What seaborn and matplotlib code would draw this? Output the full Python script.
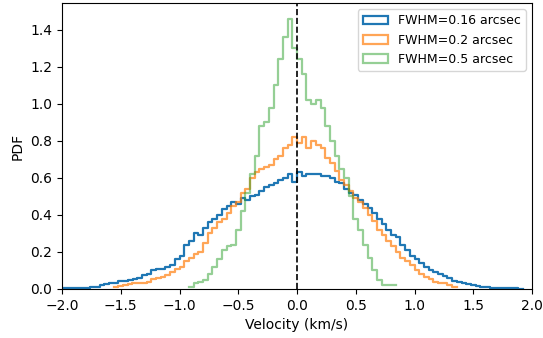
import numpy as np
import pandas as pd
import matplotlib
matplotlib.use("Agg")
import matplotlib.pyplot as plt
import seaborn as sns
from matplotlib.patches import Patch

# Velocity PDFs, one value per 0.04 km/s bin
BIN_WIDTH = 0.04

labels = ['FWHM=0.16 arcsec', 'FWHM=0.2 arcsec', 'FWHM=0.5 arcsec']

# FWHM = 0.16 arcsec, bins start at -2.00
start_016 = -2.00
pdf_016 = [
    0.005, 0.005, 0.005, 0.005, 0.008, 0.008, 0.010, 0.012, 0.020, 0.025,
    0.030, 0.035, 0.045, 0.045, 0.050, 0.055, 0.060, 0.075, 0.080, 0.100,
    0.110, 0.110, 0.120, 0.130, 0.160, 0.180, 0.240, 0.260, 0.300, 0.290,
    0.330, 0.360, 0.380, 0.400, 0.430, 0.450, 0.470, 0.460, 0.490, 0.480,
    0.500, 0.510, 0.530, 0.550, 0.560, 0.570, 0.590, 0.600, 0.620, 0.580,
    0.630, 0.610, 0.620, 0.620, 0.620, 0.610, 0.610, 0.600, 0.580, 0.570,
    0.540, 0.520, 0.510, 0.480, 0.460, 0.440, 0.410, 0.380, 0.350, 0.320,
    0.290, 0.280, 0.240, 0.210, 0.180, 0.160, 0.140, 0.120, 0.100, 0.090,
    0.080, 0.070, 0.060, 0.045, 0.040, 0.030, 0.025, 0.020, 0.015, 0.012,
    0.010, 0.008, 0.006, 0.005, 0.004, 0.003, 0.003, 0.002,
]

# FWHM = 0.2 arcsec, bins start at -1.56
start_02 = -1.56
pdf_02 = [
    0.010, 0.015, 0.020, 0.025, 0.030, 0.030, 0.035, 0.040, 0.055, 0.060,
    0.065, 0.075, 0.090, 0.110, 0.120, 0.150, 0.170, 0.190, 0.200, 0.250,
    0.300, 0.330, 0.360, 0.380, 0.410, 0.450, 0.470, 0.520, 0.540, 0.600,
    0.630, 0.650, 0.660, 0.670, 0.700, 0.720, 0.760, 0.780, 0.820, 0.790,
    0.820, 0.760, 0.800, 0.780, 0.760, 0.710, 0.680, 0.640, 0.590, 0.560,
    0.530, 0.490, 0.470, 0.440, 0.400, 0.370, 0.320, 0.290, 0.260, 0.230,
    0.200, 0.170, 0.150, 0.130, 0.100, 0.080, 0.065, 0.055, 0.040, 0.035,
    0.030, 0.020, 0.010,
]

# FWHM = 0.5 arcsec, bins start at -0.92
start_05 = -0.92
pdf_05 = [
    0.010, 0.030, 0.040, 0.050, 0.080, 0.120, 0.160, 0.210, 0.230, 0.240,
    0.320, 0.420, 0.520, 0.620, 0.720, 0.880, 0.900, 0.980, 1.100, 1.240,
    1.360, 1.460, 1.300, 1.240, 1.160, 1.020, 1.000, 1.020, 0.980, 0.880,
    0.800, 0.720, 0.650, 0.600, 0.500, 0.380, 0.320, 0.240, 0.170, 0.100,
    0.050, 0.020, 0.020, 0.020,
]

series = [
    (start_016, pdf_016, '#1f77b4', 1.0),
    (start_02, pdf_02, '#ff7f0e', 0.7),
    (start_05, pdf_05, '#2ca02c', 0.5),
]

fig, ax = plt.subplots(figsize=(5.43, 3.38), dpi=100)
fig.subplots_adjust(left=62 / 543, right=532 / 543, top=1 - 3 / 338, bottom=1 - 289 / 338)

handles = []
for (start, pdf, color, alpha), label in zip(series, labels):
    n = len(pdf)
    edges = start + BIN_WIDTH * np.arange(n + 1)
    df = pd.DataFrame({'velocity': edges[:-1] + BIN_WIDTH / 2, 'pdf': pdf})
    sns.histplot(data=df, x='velocity', weights='pdf', bins=edges.tolist(),
                 element='step', fill=False, color=color, alpha=alpha,
                 linewidth=1.6, ax=ax)
    handles.append(Patch(facecolor='none', edgecolor=color, alpha=alpha,
                         linewidth=1.6, label=label))

ax.axvline(0, color='black', linestyle='--', linewidth=1.2)

ax.set_xlim(-2, 2)
ax.set_ylim(0, 1.545)
ax.set_xlabel('Velocity (km/s)')
ax.set_ylabel('PDF')
ax.legend(handles=handles, loc='upper right', fontsize=9)

plt.savefig('out.png', dpi=100)
plt.close()
